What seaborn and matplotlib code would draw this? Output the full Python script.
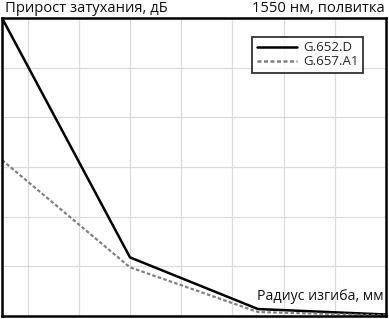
import pandas as pd
import seaborn as sns
import matplotlib.pyplot as plt

# данные
radius_mm = [5, 10, 15, 20]
loss_g652d = [6.0, 1.18, 0.14, 0.03]
loss_g657a1 = [3.14, 0.98, 0.08, 0.01]
series_names = ["G.652.D", "G.657.A1"]

df = pd.DataFrame({
    "radius": radius_mm * 2,
    "loss": loss_g652d + loss_g657a1,
    "fiber": [series_names[0]] * 4 + [series_names[1]] * 4,
})

sns.set_theme(style="white")
plt.rcParams["font.family"] = ["Open Sans", "DejaVu Sans"]

fig = plt.figure(figsize=(3.89, 3.19), dpi=100)
ax = fig.add_axes([2 / 389, 3 / 319, 384 / 389, 298 / 319])

sns.lineplot(
    data=df, x="radius", y="loss", hue="fiber", style="fiber",
    palette={series_names[0]: "black", series_names[1]: "#808080"},
    dashes={series_names[0]: "", series_names[1]: (1.6, 1.0)},
    linewidth=1.8, ax=ax,
)
ax.lines[1].set_linewidth(1.6)

ax.set_xlim(5, 20)
ax.set_ylim(0, 6)
ax.set_xticks(range(6, 20, 2))
ax.set_yticks(range(1, 6))
ax.grid(True, color="#dcdcdc", linewidth=0.9)
ax.tick_params(left=False, bottom=False, labelleft=False, labelbottom=False)
ax.set_xlabel("")
ax.set_ylabel("")
for sp in ax.spines.values():
    sp.set_color("black")
    sp.set_linewidth(1.8)

leg = ax.legend(
    loc="upper right", bbox_to_anchor=(0.958, 0.96), fontsize=9.5,
    frameon=True, fancybox=False, handlelength=3.0, handletextpad=0.5,
    borderpad=0.35, labelspacing=0.1,
)
leg.get_frame().set_edgecolor("black")
leg.get_frame().set_linewidth(1.3)

fig.text(5 / 389, 1 - 9 / 319, "Прирост затухания, дБ", fontsize=10.6,
         ha="left", va="center", color="#111111")
fig.text(385 / 389, 1 - 9 / 319, "1550 нм, полвитка", fontsize=10.6,
         ha="right", va="center", color="#111111")
ax.text(0.993, 0.065, "Радиус изгиба, мм", transform=ax.transAxes,
        fontsize=10.2, ha="right", va="center", color="#111111")

fig.savefig("out.png", dpi=100)
